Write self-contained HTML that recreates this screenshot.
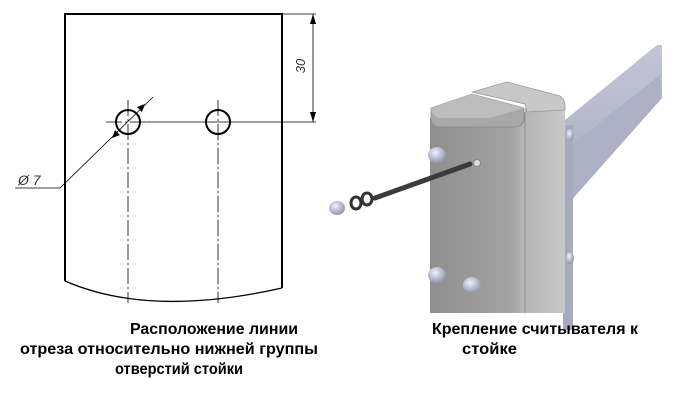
<!DOCTYPE html>
<html><head><meta charset="utf-8"><style>
html,body{margin:0;padding:0;background:#fff;width:675px;height:402px;overflow:hidden}
svg{display:block}
text{font-family:"Liberation Sans","DejaVu Sans",sans-serif}
</style></head><body>
<svg width="675" height="402" viewBox="0 0 675 402">
<defs>
<linearGradient id="face" x1="0" x2="1"><stop offset="0" stop-color="#8f8f8f"/><stop offset="0.85" stop-color="#a3a3a3"/><stop offset="1" stop-color="#b8b8b8"/></linearGradient>
<linearGradient id="side" x1="0" x2="1"><stop offset="0" stop-color="#b5b5b5"/><stop offset="1" stop-color="#c8c8c8"/></linearGradient>
<linearGradient id="arm" x1="0" y1="0" x2="0" y2="1"><stop offset="0" stop-color="#c3c5d6"/><stop offset="1" stop-color="#a9acc2"/></linearGradient>
<radialGradient id="nut" cx="0.4" cy="0.35" r="0.7"><stop offset="0" stop-color="#eef0fa"/><stop offset="1" stop-color="#8c90aa"/></radialGradient>
</defs>
<!-- left drawing -->
<g fill="none" stroke="#000">
<path d="M65 281 L65 14 L282 14 L282 288" stroke-width="2"/>
<path d="M65 281 Q150 318 282 288" stroke-width="1.3"/>
<circle cx="128" cy="122" r="12" stroke-width="2"/>
<circle cx="218" cy="122" r="12" stroke-width="2"/>
<path d="M146 122 H316" stroke-width="0.8"/>
<path d="M282 14 H316" stroke-width="0.8"/>
<path d="M313 14 V122" stroke-width="0.8"/>
<path d="M128 100 V303 M218 100 V303 M106 122 H150" stroke-width="0.8" stroke-dasharray="16,3,2,3"/>
<path d="M153 97 L60 188 H15" stroke-width="0.8"/>
</g>
<path d="M313 14 l-3 10 h6z M313 122 l-3 -10 h6z" fill="#000"/>
<path d="M145 104 l-8 3 5 5z M112 138 l8 -3 -5 -5z" fill="#000"/>
<text x="305" y="66" font-size="13" font-style="italic" fill="#333" transform="rotate(-90 305 66)" text-anchor="middle">30</text>
<text x="18" y="185" font-size="14" font-style="italic" fill="#333">Ø 7</text>
<!-- right image -->
<polygon points="565,120 657,45 662,45 662,98 567,205" fill="url(#arm)"/>
<polygon points="565,150 660,75 662,98 567,205" fill="#aeb1c6"/>
<rect x="563" y="125" width="10" height="205" fill="#a7a9bd"/>
<rect x="430" y="118" width="95" height="195" fill="url(#face)"/>
<rect x="525" y="108" width="40" height="205" fill="url(#side)"/>
<path d="M525 112 V313" stroke="#8a8a8a"/>
<!-- back cap -->
<path d="M472 92 L507 82 L560 96 Q566 100 565 110 L527 112 L525 104z" fill="#c8c8c8" stroke="#999" stroke-width="0.8"/>
<!-- front cap -->
<path d="M431 108 L472 94 L524 108 L524 120 Q522 127 514 127 L440 127 Q431 127 431 118z" fill="#a8a8a8" stroke="#888" stroke-width="0.8"/>
<path d="M431 108 L472 94 L524 108 L490 118 L440 118 Q431 116 431 108z" fill="#bdbdbd"/>
<path d="M375 198 L470 164" stroke="#3b3b3b" stroke-width="5" stroke-linecap="round"/>
<circle cx="477" cy="163" r="3.5" fill="#ddd" stroke="#888"/>
<ellipse cx="356" cy="203" rx="5" ry="6" fill="none" stroke="#333" stroke-width="3"/>
<ellipse cx="367" cy="199" rx="5" ry="6" fill="none" stroke="#333" stroke-width="3"/>
<ellipse cx="337" cy="208" rx="8" ry="7" fill="url(#nut)"/>
<ellipse cx="437" cy="155" rx="9" ry="8" fill="url(#nut)"/>
<ellipse cx="437" cy="275" rx="9" ry="8" fill="url(#nut)"/>
<ellipse cx="472" cy="285" rx="9" ry="8" fill="url(#nut)"/>
<ellipse cx="570" cy="135" rx="4" ry="6" fill="url(#nut)"/>
<ellipse cx="570" cy="258" rx="4" ry="6" fill="url(#nut)"/>
<!-- captions -->
<g font-size="15.5" font-weight="bold" fill="#000">
<text x="130" y="334" textLength="168" lengthAdjust="spacingAndGlyphs">Расположение линии</text>
<text x="20" y="354" textLength="298" lengthAdjust="spacingAndGlyphs">отреза относительно нижней группы</text>
<text x="115" y="374" textLength="128" lengthAdjust="spacingAndGlyphs">отверстий стойки</text>
<text x="432" y="334" textLength="206" lengthAdjust="spacingAndGlyphs">Крепление считывателя к</text>
<text x="462" y="354" textLength="55" lengthAdjust="spacingAndGlyphs">стойке</text>
</g>
</svg>
</body></html>
